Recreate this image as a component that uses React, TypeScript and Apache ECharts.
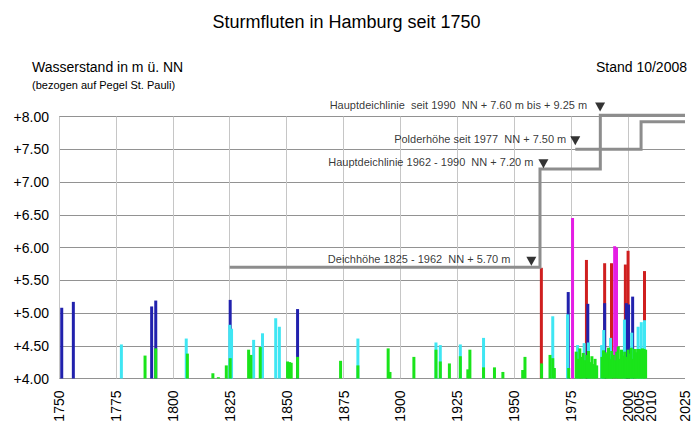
import React, { useEffect, useRef } from "react";
import * as echarts from "echarts";

const FONT = "'Liberation Sans', Arial, Helvetica, sans-serif";

// x-axis label years
const LABEL_YEARS = [1750, 1775, 1800, 1825, 1850, 1875, 1900, 1925, 1950, 1975, 2000, 2005, 2010, 2025];

// storm surges [year, water level m NN], grouped by colour class
const magentaSurges: [number, number][] = [
  [1975.6, 6.45], [1994.1, 6.02], [1994.9, 6.0],
];
const redSurges: [number, number][] = [
  [1961.9, 5.69], [1981.7, 5.81], [1989.7, 5.76], [1992.7, 5.76],
  [1998.8, 5.74], [2000.0, 5.95], [2007.2, 5.64],
];
const blueSurges: [number, number][] = [
  [1751.2, 5.08], [1756.3, 5.17], [1790.7, 5.1], [1792.5, 5.19], [1825.2, 5.2],
  [1854.8, 5.06], [1973.7, 5.32], [1982.3, 5.14], [1989.7, 5.15], [1999.2, 5.15],
  [2000.2, 5.13], [2002.0, 5.25],
];
const cyanSurges: [number, number][] = [
  [1777.4, 4.52], [1805.9, 4.61], [1825.0, 4.82], [1825.8, 4.76], [1835.5, 4.59],
  [1839.4, 4.69], [1845.2, 4.92], [1846.8, 4.79], [1881.3, 4.61], [1915.6, 4.55],
  [1917.5, 4.51], [1926.3, 4.52], [1936.5, 4.62], [1966.9, 4.95], [1973.4, 4.98],
  [1977.8, 4.51], [1980.7, 4.54], [1982.6, 4.55], [1988.4, 4.51], [1989.3, 4.74],
  [1992.3, 4.62], [1998.4, 4.9], [2001.6, 4.7], [2004.4, 4.79], [2005.8, 4.86],
  [2007.2, 4.89],
];
const greenSurges: [number, number][] = [
  [1787.8, 4.35], [1792.5, 4.46], [1806.4, 4.38], [1817.6, 4.08], [1820.0, 4.02],
  [1823.5, 4.2], [1825.2, 4.31], [1833.3, 4.44], [1834.3, 4.36], [1838.4, 4.48],
  [1850.4, 4.26], [1851.3, 4.25], [1852.0, 4.24], [1854.8, 4.33], [1873.7, 4.27],
  [1881.3, 4.2], [1894.6, 4.46], [1895.4, 4.1], [1905.9, 4.33], [1915.6, 4.44],
  [1917.5, 4.26], [1921.5, 4.23], [1926.3, 4.34], [1929.6, 4.14], [1930.5, 4.44],
  [1936.5, 4.17], [1941.3, 4.17], [1945.0, 4.1], [1953.7, 4.13], [1954.7, 4.33],
  [1962.0, 4.23], [1965.7, 4.36], [1966.9, 4.31], [1967.6, 4.16], [1973.9, 4.16],
  [1977.2, 4.41], [1978.0, 4.3], [1978.8, 4.46], [1979.5, 4.33], [1980.3, 4.39],
  [1981.0, 4.28], [1981.9, 4.36], [1982.6, 4.42], [1983.3, 4.25], [1984.1, 4.34],
  [1984.8, 4.22], [1985.5, 4.3], [1986.2, 4.2],
  [1988.5, 4.33], [1989.2, 4.43], [1990.0, 4.4], [1990.7, 4.38], [1991.4, 4.47],
  [1992.1, 4.3], [1992.8, 4.42], [1993.5, 4.36], [1994.2, 4.28], [1995.0, 4.41],
  [1995.7, 4.49], [1996.4, 4.3], [1997.1, 4.44], [1997.8, 4.35], [1998.5, 4.41],
  [1999.2, 4.33], [2000.0, 4.44], [2000.7, 4.38], [2001.4, 4.47], [2002.1, 4.3],
  [2002.8, 4.45], [2003.5, 4.4], [2004.2, 4.45], [2004.9, 4.45], [2005.6, 4.44],
  [2006.3, 4.46], [2007.0, 4.45], [2007.7, 4.44],
];

// dike / polder height step lines [year, m NN]
const dikeLine: [number, number][] = [
  [1825, 5.7], [1961.3, 5.7], [1961.3, 7.2], [1987.8, 7.2], [1987.8, 8.02], [2025, 8.02],
];
const polderLine: [number, number][] = [
  [1976.8, 7.5], [2005.7, 7.5], [2005.7, 7.92], [2025, 7.92],
];

// annotation markers
const markerTexts = [
  "Hauptdeichlinie  seit 1990  NN + 7.60 m bis + 9.25 m",
  "Polderhöhe seit 1977  NN + 7.50 m",
  "Hauptdeichlinie 1962 - 1990  NN + 7.20 m",
  "Deichhöhe 1825 - 1962  NN + 5.70 m",
];
const markerYears = [1987.7, 1976.8, 1962.8, 1957.5];
const markerLevels = [8.145, 7.63, 7.28, 5.79];
const markerGaps = [8, 4, 5, 16];

const COLORS = {
  magenta: "#e41ee4",
  red: "#cf1f1f",
  blue: "#2121ad",
  cyan: "#3fe6f3",
  green: "#1ae41a",
};

function barSeries(data: [number, number][], color: string) {
  return {
    type: "bar",
    xAxisIndex: 0,
    data,
    barWidth: 3,
    barGap: "-100%",
    itemStyle: { color },
    clip: true,
  };
}

export default function App() {
  const ref = useRef<HTMLDivElement>(null);
  useEffect(() => {
    document.body.style.margin = "0";
    const chart = echarts.init(ref.current!, null, { renderer: "svg" });
    const option: any = {
      animation: false,
      backgroundColor: "#ffffff",
      textStyle: { fontFamily: FONT },
      grid: { left: 59, right: 8, top: 116.5, bottom: 56.5, containLabel: false, outerBoundsMode: "none" },
      graphic: [
        { type: "text", left: "center", top: 13, style: { text: "Sturmfluten in Hamburg seit 1750", fontSize: 18, fontFamily: FONT, fill: "#000" } },
        { type: "text", left: 32, top: 60, style: { text: "Wasserstand in m ü. NN", fontSize: 14, fontFamily: FONT, fill: "#000" } },
        { type: "text", left: 32, top: 79, style: { text: "(bezogen auf Pegel St. Pauli)", fontSize: 11, fontFamily: FONT, fill: "#000" } },
        { type: "text", right: 6, top: 60, style: { text: "Stand 10/2008", fontSize: 14, fontFamily: FONT, fill: "#000" } },
      ],
      xAxis: [
        {
          type: "value", min: 1750, max: 2025, interval: 25,
          axisLine: { show: false }, axisTick: { show: false }, axisLabel: { show: false },
          splitLine: { show: true, showMaxLine: false, lineStyle: { color: "#c6c6c6", width: 1 } },
        },
        {
          type: "value", position: "bottom", min: 1750, max: 2025, interval: 5,
          axisLine: { show: false }, axisTick: { show: false }, splitLine: { show: false },
          axisLabel: {
            rotate: 90, margin: 12, fontSize: 14, lineHeight: 11, color: "#000", fontFamily: FONT,
            showMinLabel: true, showMaxLabel: true, hideOverlap: false,
            formatter: (v: number) => (LABEL_YEARS.includes(Math.round(v)) ? String(Math.round(v)) : ""),
          },
        },
      ],
      yAxis: {
        type: "value", min: 4, max: 8, interval: 0.5, startValue: 4,
        axisLine: { show: false }, axisTick: { show: false },
        splitLine: { show: true, lineStyle: { color: "#929292", width: 1 } },
        axisLabel: { fontSize: 14, color: "#000", fontFamily: FONT, margin: 10, formatter: (v: number) => "+" + v.toFixed(2) },
      },
      series: [
        barSeries(magentaSurges, COLORS.magenta),
        barSeries(redSurges, COLORS.red),
        barSeries(blueSurges, COLORS.blue),
        barSeries(cyanSurges, COLORS.cyan),
        barSeries(greenSurges, COLORS.green),
        {
          type: "line", xAxisIndex: 0, data: dikeLine, showSymbol: false, clip: false, z: 5,
          lineStyle: { color: "#8d8d8d", width: 3, join: "miter", cap: "butt" },
        },
        {
          type: "line", xAxisIndex: 0, data: polderLine, showSymbol: false, clip: false, z: 5,
          lineStyle: { color: "#8d8d8d", width: 3, join: "miter", cap: "butt" },
        },
        {
          type: "scatter", xAxisIndex: 0, clip: false, z: 6,
          symbol: "triangle", symbolRotate: 180, symbolSize: [10, 9],
          itemStyle: { color: "#000" },
          label: { show: true, position: "left", formatter: "{b}", fontSize: 11, color: "#000", fontFamily: FONT, offset: [0, -2] },
          data: markerTexts.map((t, i) => ({
            name: t,
            value: [markerYears[i], markerLevels[i]],
            label: { distance: markerGaps[i] },
          })),
        },
      ],
    };
    chart.setOption(option);
    return () => chart.dispose();
  }, []);
  return <div ref={ref} style={{ position: "fixed", left: 0, top: 0, width: 693, height: 435, background: "#fff" }} />;
}
